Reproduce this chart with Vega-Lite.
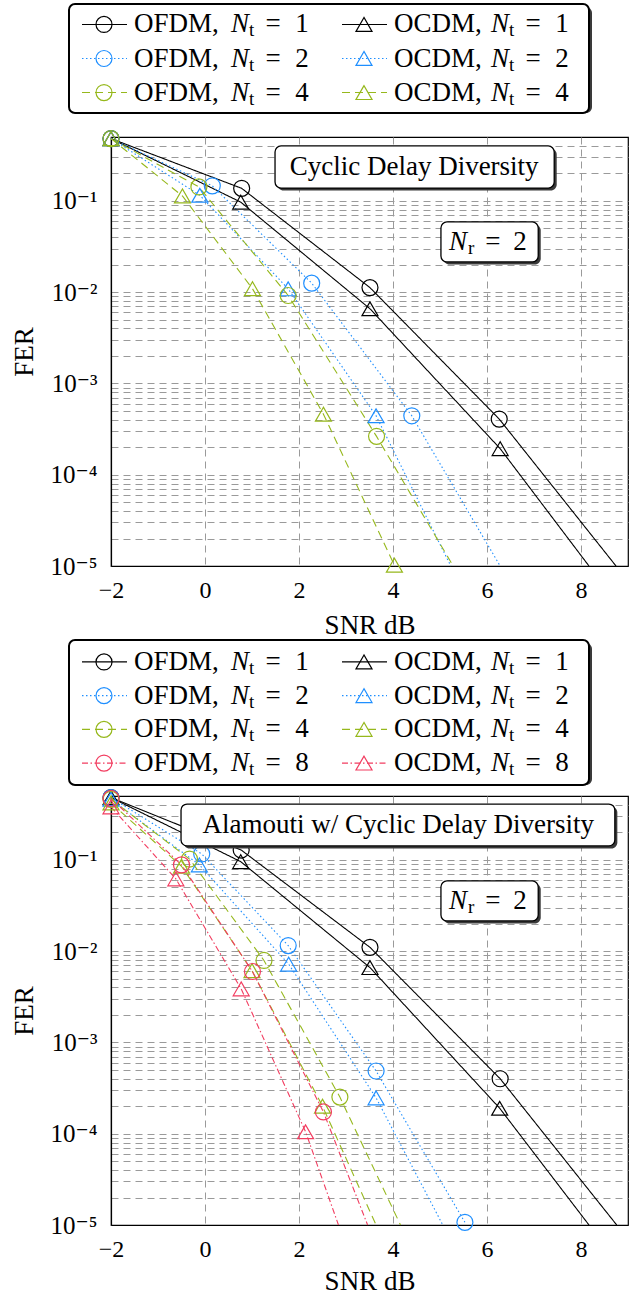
{
  "$schema": "https://vega.github.io/schema/vega-lite/v6.json",
  "background": "white",
  "padding": {"left": 10, "top": 3, "right": 0, "bottom": 0},
  "autosize": {"type": "pad"},
  "config": {
    "font": "Liberation Serif, DejaVu Serif, serif",
    "axis": {"labelFont": "Liberation Serif, DejaVu Serif, serif", "titleFont": "Liberation Serif, DejaVu Serif, serif", "labelColor": "black", "titleColor": "black", "titleFontWeight": "normal", "labelFontSize": 24, "titleFontSize": 27, "domainColor": "black", "domainWidth": 1.2, "ticks": false, "gridColor": "#9a9a9a", "gridDash": [7, 5], "gridWidth": 1, "gridOpacity": 1, "labelFlush": false},
    "text": {"font": "Liberation Serif, DejaVu Serif, serif", "color": "black"}
  },
  "datasets": {
    "cdd": [
      {"method": "OFDM", "Nt": 1, "snr": -2, "fer": 0.48, "mk": 1},
      {"method": "OFDM", "Nt": 1, "snr": 0.78, "fer": 0.137, "mk": 1},
      {"method": "OFDM", "Nt": 1, "snr": 3.51, "fer": 0.0112, "mk": 1},
      {"method": "OFDM", "Nt": 1, "snr": 6.26, "fer": 0.000407, "mk": 1},
      {"method": "OFDM", "Nt": 1, "snr": 8.745, "fer": 0.00001, "mk": 0},
      {"method": "OCDM", "Nt": 1, "snr": -2, "fer": 0.48, "mk": 1},
      {"method": "OCDM", "Nt": 1, "snr": 0.76, "fer": 0.0968, "mk": 1},
      {"method": "OCDM", "Nt": 1, "snr": 3.51, "fer": 0.00657, "mk": 1},
      {"method": "OCDM", "Nt": 1, "snr": 6.28, "fer": 0.000193, "mk": 1},
      {"method": "OCDM", "Nt": 1, "snr": 8.17, "fer": 0.00001, "mk": 0},
      {"method": "OFDM", "Nt": 2, "snr": -2, "fer": 0.48, "mk": 1},
      {"method": "OFDM", "Nt": 2, "snr": 0.155, "fer": 0.146, "mk": 1},
      {"method": "OFDM", "Nt": 2, "snr": 2.27, "fer": 0.01254, "mk": 1},
      {"method": "OFDM", "Nt": 2, "snr": 4.4, "fer": 0.000442, "mk": 1},
      {"method": "OFDM", "Nt": 2, "snr": 6.28, "fer": 0.00001, "mk": 0},
      {"method": "OCDM", "Nt": 2, "snr": -2, "fer": 0.48, "mk": 1},
      {"method": "OCDM", "Nt": 2, "snr": -0.11, "fer": 0.115, "mk": 1},
      {"method": "OCDM", "Nt": 2, "snr": 1.77, "fer": 0.01086, "mk": 1},
      {"method": "OCDM", "Nt": 2, "snr": 3.64, "fer": 0.000442, "mk": 1},
      {"method": "OCDM", "Nt": 2, "snr": 5.23, "fer": 0.00001, "mk": 0},
      {"method": "OFDM", "Nt": 4, "snr": -2, "fer": 0.48, "mk": 1},
      {"method": "OFDM", "Nt": 4, "snr": -0.13, "fer": 0.142, "mk": 1},
      {"method": "OFDM", "Nt": 4, "snr": 1.77, "fer": 0.00918, "mk": 1},
      {"method": "OFDM", "Nt": 4, "snr": 3.65, "fer": 0.000263, "mk": 1},
      {"method": "OFDM", "Nt": 4, "snr": 5.28, "fer": 0.00001, "mk": 0},
      {"method": "OCDM", "Nt": 4, "snr": -2, "fer": 0.48, "mk": 1},
      {"method": "OCDM", "Nt": 4, "snr": -0.48, "fer": 0.113, "mk": 1},
      {"method": "OCDM", "Nt": 4, "snr": 1.01, "fer": 0.0109, "mk": 1},
      {"method": "OCDM", "Nt": 4, "snr": 2.52, "fer": 0.00046, "mk": 1},
      {"method": "OCDM", "Nt": 4, "snr": 4.03, "fer": 0.0000102, "mk": 1},
      {"method": "OCDM", "Nt": 4, "snr": 4.05, "fer": 0.00001, "mk": 0}
    ],
    "ala": [
      {"method": "OFDM", "Nt": 1, "snr": -2, "fer": 0.48, "mk": 1},
      {"method": "OFDM", "Nt": 1, "snr": 0.77, "fer": 0.128, "mk": 1},
      {"method": "OFDM", "Nt": 1, "snr": 3.51, "fer": 0.011, "mk": 1},
      {"method": "OFDM", "Nt": 1, "snr": 6.28, "fer": 0.0004, "mk": 1},
      {"method": "OFDM", "Nt": 1, "snr": 8.76, "fer": 0.00001, "mk": 0},
      {"method": "OCDM", "Nt": 1, "snr": -2, "fer": 0.48, "mk": 1},
      {"method": "OCDM", "Nt": 1, "snr": 0.76, "fer": 0.0955, "mk": 1},
      {"method": "OCDM", "Nt": 1, "snr": 3.51, "fer": 0.0066, "mk": 1},
      {"method": "OCDM", "Nt": 1, "snr": 6.27, "fer": 0.00019, "mk": 1},
      {"method": "OCDM", "Nt": 1, "snr": 8.17, "fer": 0.00001, "mk": 0},
      {"method": "OFDM", "Nt": 2, "snr": -2, "fer": 0.48, "mk": 1},
      {"method": "OFDM", "Nt": 2, "snr": -0.07, "fer": 0.116, "mk": 1},
      {"method": "OFDM", "Nt": 2, "snr": 1.77, "fer": 0.0115, "mk": 1},
      {"method": "OFDM", "Nt": 2, "snr": 3.64, "fer": 0.000486, "mk": 1},
      {"method": "OFDM", "Nt": 2, "snr": 5.53, "fer": 0.0000107, "mk": 1},
      {"method": "OCDM", "Nt": 2, "snr": -2, "fer": 0.46, "mk": 1},
      {"method": "OCDM", "Nt": 2, "snr": -0.12, "fer": 0.088, "mk": 1},
      {"method": "OCDM", "Nt": 2, "snr": 1.78, "fer": 0.0072, "mk": 1},
      {"method": "OCDM", "Nt": 2, "snr": 3.64, "fer": 0.000247, "mk": 1},
      {"method": "OCDM", "Nt": 2, "snr": 5.06, "fer": 0.00001, "mk": 0},
      {"method": "OFDM", "Nt": 4, "snr": -2, "fer": 0.46, "mk": 1},
      {"method": "OFDM", "Nt": 4, "snr": -0.33, "fer": 0.102, "mk": 1},
      {"method": "OFDM", "Nt": 4, "snr": 1.255, "fer": 0.0079, "mk": 1},
      {"method": "OFDM", "Nt": 4, "snr": 2.87, "fer": 0.000252, "mk": 1},
      {"method": "OFDM", "Nt": 4, "snr": 4.16, "fer": 0.00001, "mk": 0},
      {"method": "OCDM", "Nt": 4, "snr": -2, "fer": 0.42, "mk": 1},
      {"method": "OCDM", "Nt": 4, "snr": -0.5, "fer": 0.085, "mk": 1},
      {"method": "OCDM", "Nt": 4, "snr": 1.0, "fer": 0.0061, "mk": 1},
      {"method": "OCDM", "Nt": 4, "snr": 2.5, "fer": 0.0002, "mk": 1},
      {"method": "OCDM", "Nt": 4, "snr": 3.64, "fer": 0.00001, "mk": 0},
      {"method": "OFDM", "Nt": 8, "snr": -2, "fer": 0.47, "mk": 1},
      {"method": "OFDM", "Nt": 8, "snr": -0.5, "fer": 0.088, "mk": 1},
      {"method": "OFDM", "Nt": 8, "snr": 1.01, "fer": 0.00598, "mk": 1},
      {"method": "OFDM", "Nt": 8, "snr": 2.52, "fer": 0.000173, "mk": 1},
      {"method": "OFDM", "Nt": 8, "snr": 3.46, "fer": 0.00001, "mk": 0},
      {"method": "OCDM", "Nt": 8, "snr": -2, "fer": 0.38, "mk": 1},
      {"method": "OCDM", "Nt": 8, "snr": -0.62, "fer": 0.0618, "mk": 1},
      {"method": "OCDM", "Nt": 8, "snr": 0.77, "fer": 0.00386, "mk": 1},
      {"method": "OCDM", "Nt": 8, "snr": 2.14, "fer": 0.000105, "mk": 1},
      {"method": "OCDM", "Nt": 8, "snr": 2.84, "fer": 0.00001, "mk": 0}
    ],
    "leg1": [
      {"method": "OFDM", "Nt": 1}, {"method": "OCDM", "Nt": 1},
      {"method": "OFDM", "Nt": 2}, {"method": "OCDM", "Nt": 2},
      {"method": "OFDM", "Nt": 4}, {"method": "OCDM", "Nt": 4}
    ],
    "leg2": [
      {"method": "OFDM", "Nt": 1}, {"method": "OCDM", "Nt": 1},
      {"method": "OFDM", "Nt": 2}, {"method": "OCDM", "Nt": 2},
      {"method": "OFDM", "Nt": 4}, {"method": "OCDM", "Nt": 4},
      {"method": "OFDM", "Nt": 8}, {"method": "OCDM", "Nt": 8}
    ]
  },
  "spacing": 0,
  "vconcat": [
    {
      "spacing": 13,
      "vconcat": [
        {
          "spacing": 0,
          "hconcat": [
            {"width": 57, "height": 1, "view": {"stroke": null}, "data": {"values": []}, "mark": "point"},
            {
              "width": 520, "height": 109,
              "view": {"stroke": null},
              "layer": [
                {"data": {"values": [{"frame": 1}]},
                 "mark": {"type": "rect", "fill": "#3a3a3a", "cornerRadius": 6, "xOffset": 3, "x2Offset": 3, "yOffset": 3, "y2Offset": 3}},
                {"data": {"values": [{"frame": 1}]},
                 "mark": {"type": "rect", "fill": "white", "stroke": "black", "strokeWidth": 2, "cornerRadius": 6}},
                {"data": {"name": "leg1"},
                 "transform": [{"calculate": "datum.method + ','", "as": "lab"}, {"calculate": "'' + datum.Nt", "as": "num"}],
                 "encoding": {
                   "x": {"field": "method", "type": "nominal", "bandPosition": 0, "scale": {"domain": ["OFDM", "OCDM"], "paddingInner": 0, "paddingOuter": 0}, "axis": null},
                   "y": {"field": "Nt", "type": "ordinal", "scale": {"type": "point", "padding": 0.6}, "axis": null}
                 },
                 "layer": [
                   {"mark": {"type": "rule", "xOffset": 13, "x2Offset": 58, "strokeWidth": 1.1},
                    "encoding": {"x2": {"field": "method", "bandPosition": 0},
                      "color": {"field": "Nt", "type": "nominal", "scale": {"domain": [1, 2, 4, 8], "range": ["#000000", "#1f8fff", "#96b81c", "#f23d60"]}, "legend": null},
                      "strokeDash": {"field": "Nt", "type": "nominal", "scale": {"domain": [1, 2, 4, 8], "range": [[1, 0], [1.5, 2.5], [8, 5], [6, 2.5, 1.5, 2.5]]}, "legend": null}}},
                   {"mark": {"type": "point", "xOffset": 35, "filled": false, "size": 256, "strokeWidth": 1.2, "opacity": 1},
                    "encoding": {
                      "shape": {"field": "method", "type": "nominal", "scale": {"domain": ["OFDM", "OCDM"], "range": ["circle", "triangle-up"]}, "legend": null},
                      "color": {"field": "Nt", "type": "nominal", "legend": null}}},
                   {"mark": {"type": "text", "align": "left", "baseline": "middle", "dx": 65, "fontSize": 27, "color": "black"}, "encoding": {"text": {"field": "lab"}}},
                   {"mark": {"type": "text", "align": "left", "baseline": "middle", "dx": 162, "fontSize": 27, "fontStyle": "italic", "color": "black"}, "encoding": {"text": {"value": "N"}}},
                   {"mark": {"type": "text", "align": "left", "baseline": "middle", "dx": 180, "dy": 6, "fontSize": 19, "color": "black"}, "encoding": {"text": {"value": "t"}}},
                   {"mark": {"type": "text", "align": "center", "baseline": "middle", "dx": 204, "fontSize": 27, "color": "black"}, "encoding": {"text": {"value": "="}}},
                   {"mark": {"type": "text", "align": "center", "baseline": "middle", "dx": 233, "fontSize": 27, "color": "black"}, "encoding": {"text": {"field": "num"}}}
                 ]}
              ]
            }
          ]
        },
        {
          "spacing": 0,
          "hconcat": [
            {
              "width": 86, "height": 429,
              "view": {"stroke": null},
              "data": {"name": "cdd"},
              "mark": {"type": "point", "opacity": 0},
              "encoding": {
                "y": {"field": "fer", "type": "quantitative", "scale": {"type": "log", "domain": [0.00001, 0.5], "nice": false},
                      "axis": {"title": "FER", "offset": -86, "labelPadding": 0, "titlePadding": 12, "domain": false, "grid": false, "labelFontSize": 25,
                        "values": [0.00001, 0.0001, 0.001, 0.01, 0.1],
                        "labelExpr": "'10⁻' + ['⁰','¹','²','³','⁴','⁵'][-round(log(datum.value)/LN10)]"}}
              }
            },
            {
              "width": 517, "height": 429,
              "view": {"stroke": "black", "strokeWidth": 1.2},
              "data": {"name": "cdd"},
              "encoding": {
                "x": {"field": "snr", "type": "quantitative", "scale": {"domain": [-2, 9], "nice": false, "zero": false},
                      "axis": {"title": "SNR dB", "values": [-2, 0, 2, 4, 6, 8], "format": "d", "labelPadding": 12, "titlePadding": 10}},
                "y": {"field": "fer", "type": "quantitative", "scale": {"type": "log", "domain": [0.00001, 0.5], "nice": false},
                      "axis": {"title": null, "labels": false, "ticks": false, "domain": true,
                        "values": [0.00001, 0.00002, 0.00003, 0.00004, 0.00005, 0.00006, 0.00007, 0.00008, 0.00009, 0.0001, 0.0002, 0.0003, 0.0004, 0.0005, 0.0006, 0.0007, 0.0008, 0.0009, 0.001, 0.002, 0.003, 0.004, 0.005, 0.006, 0.007, 0.008, 0.009, 0.01, 0.02, 0.03, 0.04, 0.05, 0.06, 0.07, 0.08, 0.09, 0.1, 0.2, 0.3, 0.4]}}
              },
              "layer": [
                {"mark": {"type": "line", "strokeWidth": 1.1},
                 "encoding": {
                   "color": {"field": "Nt", "type": "nominal", "legend": null},
                   "strokeDash": {"field": "Nt", "type": "nominal", "legend": null},
                   "detail": {"field": "method"}}},
                {"transform": [{"filter": "datum.mk == 1"}],
                 "mark": {"type": "point", "filled": false, "size": 256, "strokeWidth": 1.2, "opacity": 1},
                 "encoding": {
                   "shape": {"field": "method", "type": "nominal", "legend": null},
                   "color": {"field": "Nt", "type": "nominal", "legend": null}}},
                {"data": {"values": [{"snr": 1.49, "snr2": 7.43, "fer": 0.399, "fer2": 0.138}, {"snr": 5.02, "snr2": 7.09, "fer": 0.0587, "fer2": 0.0214}]},
                 "mark": {"type": "rect", "fill": "#3a3a3a", "cornerRadius": 6, "xOffset": 2.5, "x2Offset": 2.5, "yOffset": 2.5, "y2Offset": 2.5},
                 "encoding": {"x2": {"field": "snr2"}, "y2": {"field": "fer2"}}},
                {"data": {"values": [{"snr": 1.49, "snr2": 7.43, "fer": 0.399, "fer2": 0.138}, {"snr": 5.02, "snr2": 7.09, "fer": 0.0587, "fer2": 0.0214}]},
                 "mark": {"type": "rect", "fill": "white", "stroke": "black", "strokeWidth": 1.3, "cornerRadius": 6},
                 "encoding": {"x2": {"field": "snr2"}, "y2": {"field": "fer2"}}},
                {"data": {"values": [{"label": "Cyclic Delay Diversity", "snr": 4.45, "fer": 0.235}]},
                 "mark": {"type": "text", "align": "center", "baseline": "middle", "fontSize": 27, "color": "black"},
                 "encoding": {"text": {"field": "label"}}},
                {"data": {"values": [{"snr": 5.02, "fer": 0.0355}]},
                 "mark": {"type": "text", "align": "left", "baseline": "middle", "dx": 8, "fontSize": 27, "fontStyle": "italic", "color": "black"},
                 "encoding": {"text": {"value": "N"}}},
                {"data": {"values": [{"snr": 5.02, "fer": 0.0355}]},
                 "mark": {"type": "text", "align": "left", "baseline": "middle", "dx": 27, "dy": 6, "fontSize": 19, "color": "black"},
                 "encoding": {"text": {"value": "r"}}},
                {"data": {"values": [{"snr": 5.02, "fer": 0.0355}]},
                 "mark": {"type": "text", "align": "center", "baseline": "middle", "dx": 52, "fontSize": 27, "color": "black"},
                 "encoding": {"text": {"value": "="}}},
                {"data": {"values": [{"snr": 5.02, "fer": 0.0355}]},
                 "mark": {"type": "text", "align": "center", "baseline": "middle", "dx": 79, "fontSize": 27, "color": "black"},
                 "encoding": {"text": {"value": "2"}}}
              ]
            }
          ]
        }
      ]
    },
    {
      "spacing": 0,
      "vconcat": [
        {
          "spacing": 0,
          "hconcat": [
            {"width": 57, "height": 1, "view": {"stroke": null}, "data": {"values": []}, "mark": "point"},
            {
              "width": 520, "height": 145,
              "view": {"stroke": null},
              "layer": [
                {"data": {"values": [{"frame": 1}]},
                 "mark": {"type": "rect", "fill": "#3a3a3a", "cornerRadius": 6, "xOffset": 3, "x2Offset": 3, "yOffset": 3, "y2Offset": 3}},
                {"data": {"values": [{"frame": 1}]},
                 "mark": {"type": "rect", "fill": "white", "stroke": "black", "strokeWidth": 2, "cornerRadius": 6}},
                {"data": {"name": "leg2"},
                 "transform": [{"calculate": "datum.method + ','", "as": "lab"}, {"calculate": "'' + datum.Nt", "as": "num"}],
                 "encoding": {
                   "x": {"field": "method", "type": "nominal", "bandPosition": 0, "scale": {"domain": ["OFDM", "OCDM"], "paddingInner": 0, "paddingOuter": 0}, "axis": null},
                   "y": {"field": "Nt", "type": "ordinal", "scale": {"type": "point", "padding": 0.65}, "axis": null}
                 },
                 "layer": [
                   {"mark": {"type": "rule", "xOffset": 13, "x2Offset": 58, "strokeWidth": 1.1},
                    "encoding": {"x2": {"field": "method", "bandPosition": 0},
                      "color": {"field": "Nt", "type": "nominal", "legend": null},
                      "strokeDash": {"field": "Nt", "type": "nominal", "legend": null}}},
                   {"mark": {"type": "point", "xOffset": 35, "filled": false, "size": 256, "strokeWidth": 1.2, "opacity": 1},
                    "encoding": {
                      "shape": {"field": "method", "type": "nominal", "legend": null},
                      "color": {"field": "Nt", "type": "nominal", "legend": null}}},
                   {"mark": {"type": "text", "align": "left", "baseline": "middle", "dx": 65, "fontSize": 27, "color": "black"}, "encoding": {"text": {"field": "lab"}}},
                   {"mark": {"type": "text", "align": "left", "baseline": "middle", "dx": 162, "fontSize": 27, "fontStyle": "italic", "color": "black"}, "encoding": {"text": {"value": "N"}}},
                   {"mark": {"type": "text", "align": "left", "baseline": "middle", "dx": 180, "dy": 6, "fontSize": 19, "color": "black"}, "encoding": {"text": {"value": "t"}}},
                   {"mark": {"type": "text", "align": "center", "baseline": "middle", "dx": 204, "fontSize": 27, "color": "black"}, "encoding": {"text": {"value": "="}}},
                   {"mark": {"type": "text", "align": "center", "baseline": "middle", "dx": 233, "fontSize": 27, "color": "black"}, "encoding": {"text": {"field": "num"}}}
                 ]}
              ]
            }
          ]
        },
        {
          "spacing": 0,
          "hconcat": [
            {
              "width": 86, "height": 429,
              "view": {"stroke": null},
              "data": {"name": "ala"},
              "mark": {"type": "point", "opacity": 0},
              "encoding": {
                "y": {"field": "fer", "type": "quantitative", "scale": {"type": "log", "domain": [0.00001, 0.5], "nice": false},
                      "axis": {"title": "FER", "offset": -86, "labelPadding": 0, "titlePadding": 12, "domain": false, "grid": false, "labelFontSize": 25,
                        "values": [0.00001, 0.0001, 0.001, 0.01, 0.1],
                        "labelExpr": "'10⁻' + ['⁰','¹','²','³','⁴','⁵'][-round(log(datum.value)/LN10)]"}}
              }
            },
            {
              "width": 517, "height": 429,
              "view": {"stroke": "black", "strokeWidth": 1.2},
              "data": {"name": "ala"},
              "encoding": {
                "x": {"field": "snr", "type": "quantitative", "scale": {"domain": [-2, 9], "nice": false, "zero": false},
                      "axis": {"title": "SNR dB", "values": [-2, 0, 2, 4, 6, 8], "format": "d", "labelPadding": 12, "titlePadding": 7}},
                "y": {"field": "fer", "type": "quantitative", "scale": {"type": "log", "domain": [0.00001, 0.5], "nice": false},
                      "axis": {"title": null, "labels": false, "ticks": false, "domain": true,
                        "values": [0.00001, 0.00002, 0.00003, 0.00004, 0.00005, 0.00006, 0.00007, 0.00008, 0.00009, 0.0001, 0.0002, 0.0003, 0.0004, 0.0005, 0.0006, 0.0007, 0.0008, 0.0009, 0.001, 0.002, 0.003, 0.004, 0.005, 0.006, 0.007, 0.008, 0.009, 0.01, 0.02, 0.03, 0.04, 0.05, 0.06, 0.07, 0.08, 0.09, 0.1, 0.2, 0.3, 0.4]}}
              },
              "layer": [
                {"mark": {"type": "line", "strokeWidth": 1.1},
                 "encoding": {
                   "color": {"field": "Nt", "type": "nominal", "legend": null},
                   "strokeDash": {"field": "Nt", "type": "nominal", "legend": null},
                   "detail": {"field": "method"}}},
                {"transform": [{"filter": "datum.mk == 1"}],
                 "mark": {"type": "point", "filled": false, "size": 256, "strokeWidth": 1.2, "opacity": 1},
                 "encoding": {
                   "shape": {"field": "method", "type": "nominal", "legend": null},
                   "color": {"field": "Nt", "type": "nominal", "legend": null}}},
                {"data": {"values": [{"snr": -0.51, "snr2": 8.72, "fer": 0.408, "fer2": 0.142}, {"snr": 5.02, "snr2": 7.09, "fer": 0.0587, "fer2": 0.0214}]},
                 "mark": {"type": "rect", "fill": "#3a3a3a", "cornerRadius": 6, "xOffset": 2.5, "x2Offset": 2.5, "yOffset": 2.5, "y2Offset": 2.5},
                 "encoding": {"x2": {"field": "snr2"}, "y2": {"field": "fer2"}}},
                {"data": {"values": [{"snr": -0.51, "snr2": 8.72, "fer": 0.408, "fer2": 0.142}, {"snr": 5.02, "snr2": 7.09, "fer": 0.0587, "fer2": 0.0214}]},
                 "mark": {"type": "rect", "fill": "white", "stroke": "black", "strokeWidth": 1.3, "cornerRadius": 6},
                 "encoding": {"x2": {"field": "snr2"}, "y2": {"field": "fer2"}}},
                {"data": {"values": [{"label": "Alamouti w/ Cyclic Delay Diversity", "snr": 4.11, "fer": 0.24}]},
                 "mark": {"type": "text", "align": "center", "baseline": "middle", "fontSize": 27, "color": "black"},
                 "encoding": {"text": {"field": "label"}}},
                {"data": {"values": [{"snr": 5.02, "fer": 0.0355}]},
                 "mark": {"type": "text", "align": "left", "baseline": "middle", "dx": 8, "fontSize": 27, "fontStyle": "italic", "color": "black"},
                 "encoding": {"text": {"value": "N"}}},
                {"data": {"values": [{"snr": 5.02, "fer": 0.0355}]},
                 "mark": {"type": "text", "align": "left", "baseline": "middle", "dx": 27, "dy": 6, "fontSize": 19, "color": "black"},
                 "encoding": {"text": {"value": "r"}}},
                {"data": {"values": [{"snr": 5.02, "fer": 0.0355}]},
                 "mark": {"type": "text", "align": "center", "baseline": "middle", "dx": 52, "fontSize": 27, "color": "black"},
                 "encoding": {"text": {"value": "="}}},
                {"data": {"values": [{"snr": 5.02, "fer": 0.0355}]},
                 "mark": {"type": "text", "align": "center", "baseline": "middle", "dx": 79, "fontSize": 27, "color": "black"},
                 "encoding": {"text": {"value": "2"}}}
              ]
            }
          ]
        }
      ]
    }
  ]
}
